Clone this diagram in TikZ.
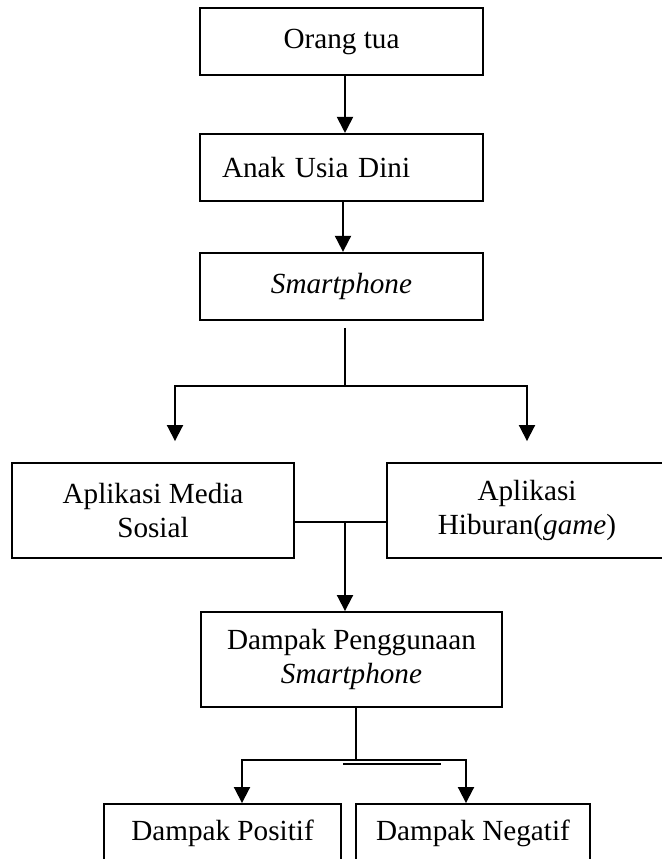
\documentclass[tikz,border=0pt]{standalone}
\usepackage{fontspec}
\setmainfont{Liberation Serif}
\usetikzlibrary{arrows.meta, positioning, calc}

\begin{document}
\begin{tikzpicture}[x=0.5pt, y=-0.5pt,
    kotak/.style={rectangle, draw, line width=0.95pt, align=center, inner sep=0pt, font=\fontsize{14.6}{16.8}\selectfont},
    arr/.style={-{Triangle[length=8pt, width=8pt]}, line width=0.95pt},
    garis/.style={line width=0.95pt}
]
\useasboundingbox (0,0) rectangle (661,859);

\node[kotak, minimum width=141.5pt, minimum height=33.5pt] (ortu) at (341.5,41.5) {Orang tua};
\node[kotak, minimum width=141.5pt, minimum height=33.5pt, text width=119.5pt, align=left, below=28.5pt of ortu] (anak) {Anak Usia Dini};
\node[kotak, minimum width=141.5pt, minimum height=33.5pt, below=25pt of anak] (hp) {\textit{Smartphone}};

\node[kotak, minimum width=141pt, minimum height=47.5pt] (medsos) at (153,510.5) {Aplikasi Media\\Sosial};
\node[kotak, minimum width=140pt, minimum height=47.5pt] (hiburan) at (527,510.5) {Aplikasi\\Hiburan(\textit{game})};
\node[kotak, minimum width=150.5pt, minimum height=47.5pt] (dampak) at (351.5,659.5) {Dampak Penggunaan\\\textit{Smartphone}};

\node[kotak, minimum width=118.5pt, minimum height=29pt] (positif) at (222.5,833) {Dampak Positif};
\node[kotak, minimum width=117pt, minimum height=29pt] (negatif) at (473,833) {Dampak Negatif};

\draw[arr] ([xshift=1.75pt]ortu.south) -- ([xshift=1.75pt]anak.north);
\draw[arr] ([xshift=0.75pt]anak.south) -- ([xshift=0.75pt]hp.north);

% percabangan aplikasi
\coordinate (cabang) at (345,386);
\draw[garis] ([yshift=-3.5pt]hp.south -| cabang) -- (cabang);
\draw[arr] (cabang) -| ([xshift=11pt, yshift=10.5pt]medsos.north);
\draw[arr] (cabang) -| ([yshift=10.5pt]hiburan.north);

\draw[garis] ([yshift=-5.75pt]medsos.east) -- ([yshift=-5.75pt]hiburan.west);
\coordinate (gabung) at (345,522);
\draw[arr] (gabung) -- (gabung |- dampak.north);

% percabangan dampak
\coordinate (cabang2) at (356,760);
\draw[garis] (dampak.south -| cabang2) -- (cabang2);
\draw[arr] (cabang2) -| ([xshift=9.75pt]positif.north);
\draw[arr] (cabang2) -| ([xshift=-3.5pt]negatif.north);
\draw[garis] ([xshift=-6.5pt, yshift=-2pt]cabang2) -- ++(49pt,0);
\end{tikzpicture}
\end{document}
